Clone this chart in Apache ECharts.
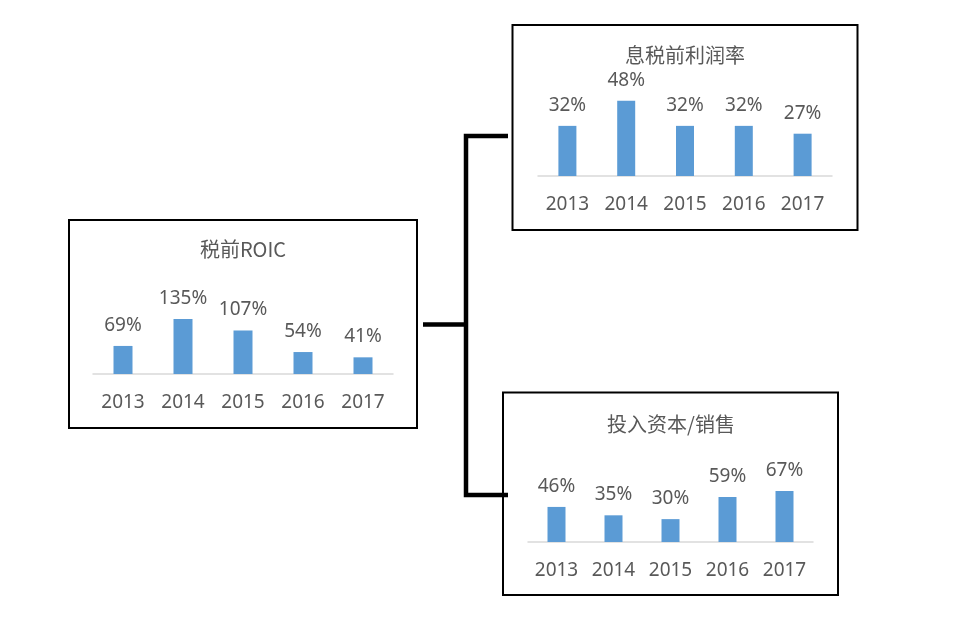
<!DOCTYPE html>
<html>
<head>
<meta charset="utf-8">
<style>
  html, body { margin: 0; padding: 0; background: #fff; }
  #chart { width: 958px; height: 617px; }
</style>
<script src="https://cdn.jsdelivr.net/npm/echarts@6/dist/echarts.min.js"></script>
</head>
<body>
<div id="chart"></div>
<script>
var years = ["2013", "2014", "2015", "2016", "2017"];
var roic_vals = [69, 135, 107, 54, 41];
var ebit_margin_vals = [32, 48, 32, 32, 27];
var capital_sales_vals = [46, 35, 30, 59, 67];
var panel_titles = ["税前ROIC", "息税前利润率", "投入资本/销售"];

var BAR_COLOR = "#5B9BD5";
var TEXT_COLOR = "#595959";
var NUM_FONT = "'Noto Sans', 'Liberation Sans', sans-serif";
var CJK_FONT = "'Noto Sans CJK SC', sans-serif";

// one panel = grid + axes + series, placed by pixel
var panels = [
    {vals: roic_vals, grid: {left: 93, top: 313, width: 300, height: 61}, max: 150, bw: 19,
     title: {x: 243, y: 239}},
    {vals: ebit_margin_vals, grid: {left: 538, top: 82, width: 294, height: 94}, max: 60, bw: 18,
     title: {x: 685, y: 45}},
    {vals: capital_sales_vals, grid: {left: 528, top: 481, width: 285, height: 61}, max: 80, bw: 18,
     title: {x: 671, y: 414}}
];

var chart = echarts.init(document.getElementById("chart"), null, {renderer: "canvas"});

var option = {
    animation: false,
    backgroundColor: "#fff",
    title: panels.map(function (p, i) {
        return {
            text: panel_titles[i],
            left: p.title.x,
            top: p.title.y,
            textAlign: "center",
            padding: 0,
            textStyle: {fontFamily: CJK_FONT, fontSize: 20, fontWeight: "normal", color: TEXT_COLOR}
        };
    }),
    grid: panels.map(function (p) { return p.grid; }),
    xAxis: panels.map(function (p, i) {
        return {
            type: "category",
            gridIndex: i,
            data: years,
            axisLine: {lineStyle: {color: "#D9D9D9", width: 1.5}},
            axisTick: {show: false},
            axisLabel: {color: TEXT_COLOR, fontFamily: NUM_FONT, fontSize: 19, margin: 19}
        };
    }),
    yAxis: panels.map(function (p, i) {
        return {
            type: "value",
            gridIndex: i,
            min: 0,
            max: p.max,
            show: false,
            splitLine: {show: false}
        };
    }),
    series: panels.map(function (p, i) {
        return {
            type: "bar",
            xAxisIndex: i,
            yAxisIndex: i,
            data: p.vals,
            barWidth: p.bw,
            itemStyle: {color: BAR_COLOR},
            label: {
                show: true,
                position: "top",
                distance: 11,
                formatter: "{c}%",
                color: TEXT_COLOR,
                fontFamily: NUM_FONT,
                fontSize: 19
            }
        };
    }),
    graphic: [
        // boxes
        {type: "rect", shape: {x: 69, y: 220, width: 348, height: 208},
         style: {fill: null, stroke: "#000", lineWidth: 2}},
        {type: "rect", shape: {x: 512.5, y: 25, width: 345, height: 205},
         style: {fill: null, stroke: "#000", lineWidth: 2}},
        {type: "rect", shape: {x: 503, y: 392.5, width: 335, height: 202.5},
         style: {fill: null, stroke: "#000", lineWidth: 2}},
        // connectors
        {type: "polyline", shape: {points: [[508, 136], [466, 136], [466, 495], [508, 495]]},
         style: {fill: null, stroke: "#000", lineWidth: 4.5}},
        {type: "line", shape: {x1: 423, y1: 324.5, x2: 466, y2: 324.5},
         style: {stroke: "#000", lineWidth: 4.5}}
    ]
};

chart.setOption(option);
</script>
</body>
</html>
